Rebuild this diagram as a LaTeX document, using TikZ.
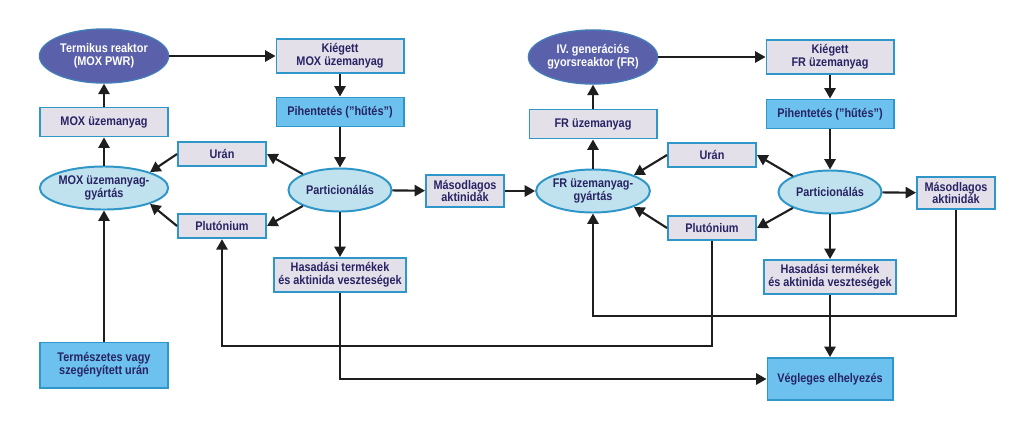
\documentclass[tikz,border=0pt]{standalone}
\usepackage{fontspec}
\setmainfont{Liberation Sans}[FakeStretch=0.87]
\usetikzlibrary{shapes.geometric,arrows.meta}
\definecolor{rim}{RGB}{46,150,200}
\definecolor{lavender}{RGB}{228,224,234}
\definecolor{stageblue}{RGB}{108,193,238}
\definecolor{fabblue}{RGB}{192,226,238}
\definecolor{reactorblue}{RGB}{90,96,170}
\definecolor{ink}{RGB}{40,36,100}
\definecolor{lineblack}{RGB}{30,30,30}

\begin{document}
\begin{tikzpicture}
  [x=0.025cm,y=-0.025cm,
  every node/.style={font=\fontsize{8.9}{9}\selectfont\bfseries,text=ink,align=center,inner sep=0pt},
  reactor/.style={ellipse,draw=rim!50!reactorblue,line width=1pt,fill=reactorblue,text=white,minimum width=3.225cm,minimum height=1.35cm},
  fab/.style={ellipse,draw=rim,line width=1.4pt,fill=fabblue,minimum width=2.575cm,minimum height=1.075cm},
  material/.style={rectangle,draw=rim,line width=1.4pt,fill=lavender,minimum width=3.175cm,minimum height=0.85cm},
  stage/.style={rectangle,draw=rim,line width=1.4pt,fill=stageblue,minimum width=3.175cm,minimum height=0.85cm},
  small/.style={material,minimum width=2.2cm,minimum height=0.61cm},
  minor/.style={material,minimum width=1.95cm,minimum height=0.8cm},
  flow/.style={-{Triangle[length=2.6mm,width=2.8mm]},line width=1.5pt,draw=lineblack}]

  \path[use as bounding box,fill=white] (0,0) rectangle (1024,430);

  % MOX cycle
  \node[reactor] (thermal) at (104,56) {Termikus reaktor\\(MOX PWR)};
  \node[material] (spentMOX) at (340,56) {Kiégett\\MOX üzemanyag};
  \node[stage,minimum height=0.725cm] (coolL) at (340,112) {Pihentetés ("hűtés")};
  \node[material,minimum height=0.725cm] (fuelMOX) at (104,122) {MOX üzemanyag};
  \node[small] (uranL) at (222,154) {Urán};
  \node[fab] (fabMOX) at (104,188) {MOX üzemanyag-\\gyártás};
  \node[fab] (partL) at (340,190) {Particionálás};
  \node[small] (plutL) at (222,226) {Plutónium};
  \node[material,minimum width=3.3cm] (wasteL) at (340,275) {Hasadási termékek\\és aktinida veszteségek};
  \node[stage,minimum height=1.125cm] (natU) at (104,365) {Természetes vagy\\szegényített urán};
  \node[minor] (minorL) at (465,191) {Másodlagos\\aktinidák};

  % FR cycle
  \node[reactor] (fast) at (593,57) {IV. generációs\\gyorsreaktor (FR)};
  \node[material,minimum height=0.725cm] (fuelFR) at (593,124) {FR üzemanyag};
  \node[fab] (fabFR) at (593,191) {FR üzemanyag-\\gyártás};
  \node[small] (uranR) at (712,155) {Urán};
  \node[small] (plutR) at (712,228) {Plutónium};
  \node[material] (spentFR) at (830,57) {Kiégett\\FR üzemanyag};
  \node[stage,minimum height=0.725cm] (coolR) at (830,114) {Pihentetés ("hűtés")};
  \node[fab] (partR) at (830,192) {Particionálás};
  \node[minor] (minorR) at (956,193) {Másodlagos\\aktinidák};
  \node[material,minimum width=3.3cm] (wasteR) at (830,277) {Hasadási termékek\\és aktinida veszteségek};
  \node[stage,minimum width=3.125cm,minimum height=1.05cm] (final) at (830,379) {Végleges elhelyezés};

  \coordinate (loopA) at (593,316);
  \coordinate (loopB) at (222,346);

  \draw[flow] (thermal) -- (spentMOX);
  \draw[flow] (spentMOX) -- (coolL);
  \draw[flow] (coolL) -- (partL);
  \draw[flow] (partL.north west) -- (uranL.east);
  \draw[flow] (partL.south west) -- (plutL.east);
  \draw[flow] (uranL.west) -- (fabMOX.north east);
  \draw[flow] (plutL.west) -- (fabMOX.south east);
  \draw[flow] (fabMOX) -- (fuelMOX);
  \draw[flow] (fuelMOX) -- (thermal);
  \draw[flow] (natU) -- (fabMOX);
  \draw[flow] (partL) -- (wasteL);
  \draw[flow] (partL) -- (minorL);
  \draw[flow] (minorL) -- (fabFR);

  \draw[flow] (fabFR) -- (fuelFR);
  \draw[flow] (fuelFR) -- (fast);
  \draw[flow] (fast) -- (spentFR);
  \draw[flow] (spentFR) -- (coolR);
  \draw[flow] (coolR) -- (partR);
  \draw[flow] (partR.north west) -- (uranR.east);
  \draw[flow] (partR.south west) -- (plutR.east);
  \draw[flow] (uranR.west) -- (fabFR.north east);
  \draw[flow] (plutR.west) -- (fabFR.south east);
  \draw[flow] (partR) -- (minorR);
  \draw[flow] (partR) -- (wasteR);
  \draw[flow] (wasteR) -- (final);

  % return lines
  \draw[flow] (minorR.south) |- (loopA) -- (fabFR.south);
  \draw[flow] (plutR.south) |- (loopB) -- (plutL.south);
  \draw[flow] (wasteL.south) |- (final.west);
\end{tikzpicture}
\end{document}
